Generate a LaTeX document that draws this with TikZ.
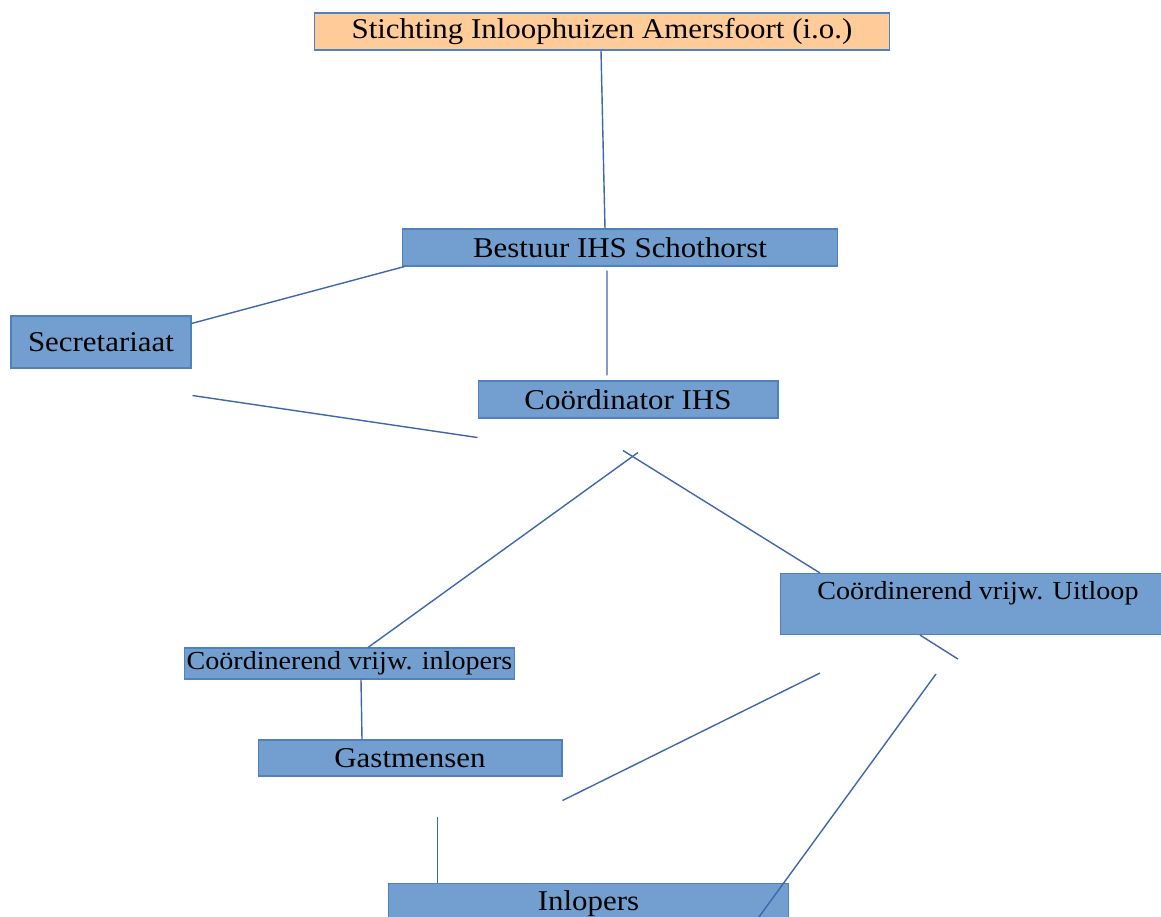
\documentclass[tikz,border=0pt]{standalone}
\usepackage{fontspec}
\setmainfont{Liberation Serif}[FakeStretch=1.08]
\definecolor{boxblue}{RGB}{114,159,207}
\definecolor{edgeblue}{RGB}{79,129,189}
\definecolor{lineblue}{RGB}{62,103,172}
\definecolor{peach}{RGB}{255,204,153}
\begin{document}
\begin{tikzpicture}[x=0.02cm, y=-0.02cm,
                box/.style={draw=edgeblue, fill=boxblue, rectangle, inner sep=0pt, line width=0.6pt, font=\fontsize{16.3}{19}\selectfont},
                smallbox/.style={box, font=\fontsize{14.8}{17}\selectfont},
                link/.style={draw=lineblue, line width=0.8pt}]
                \clip (0,0) rectangle (1161,917);
                \node[box, fill=peach, minimum width=11.52cm, minimum height=0.74cm] (stichting) at (602,31.5) {Stichting Inloophuizen Amersfoort (i.o.)};
                \node[box, minimum width=8.72cm, minimum height=0.74cm] (bestuur) at (620,247.5) {Bestuur IHS Schothorst};
                \node[box, minimum width=3.6cm, minimum height=1.04cm] (secr) at (101,342) {Secretariaat};
                \node[box, minimum width=6cm, minimum height=0.74cm] (coord) at (628,399.5) {Coördinator IHS};
                \node[smallbox, anchor=north west, minimum width=7.9cm, text height=0.52cm, text depth=0.7cm] (uitloop) at (780,573) {Coördinerend vrijw. Uitloop};
                \node[smallbox, minimum width=6.62cm, minimum height=0.62cm] (inlopersco) at (349.5,663.5) {Coördinerend vrijw. inlopers};
                \node[box, minimum width=6.08cm, minimum height=0.72cm] (gast) at (410,758) {Gastmensen};
                \node[box, anchor=north, minimum width=8.02cm, text height=0.54cm, text depth=0.4cm] (inl) at (588.5,883) {Inlopers};

                \coordinate (secfree) at ([xshift=0.02cm,yshift=-0.54cm]secr.south east);
                \coordinate (coordfree) at ([yshift=-0.38cm]coord.south west);
                \coordinate (uitfree) at ([xshift=3.56cm,yshift=-0.48cm]uitloop.south west);
                \coordinate (uitfreeb) at ([xshift=0.8cm,yshift=-0.76cm]uitloop.south west);
                \coordinate (uitfreec) at ([xshift=3.12cm,yshift=-0.78cm]uitloop.south west);
                \coordinate (gastfree) at ([yshift=-0.48cm]gast.south east);
                \coordinate (inlfree) at ([xshift=1cm,yshift=1.32cm]inl.north west);

                \draw[link] ([xshift=-0.02cm]stichting.south) -- ([xshift=-0.3cm]bestuur.north);
                \draw[link] ([xshift=0.06cm]bestuur.south west) -- ([yshift=-0.16cm]secr.north east);
                \draw[link] ([xshift=-0.26cm,yshift=-0.08cm]bestuur.south) -- ([xshift=-0.42cm,yshift=0.1cm]coord.north);
                \draw[link] (secfree) -- (coordfree);
                \draw[link] ([xshift=-0.1cm,yshift=-0.64cm]coord.south) -- ([xshift=0.8cm]uitloop.north west);
                \draw[link] ([xshift=0.2cm,yshift=-0.68cm]coord.south) -- ([xshift=0.37cm]inlopersco.north);
                \draw[link] ([xshift=2.8cm]uitloop.south west) -- (uitfree);
                \draw[link] ([xshift=0.23cm]inlopersco.south) -- ([xshift=-0.96cm]gast.north);
                \draw[link] (uitfreeb) -- (gastfree);
                \draw[link] (inlfree) -- ([xshift=1cm]inl.north west);
                \draw[link] (uitfreec) -- ++(-188,258);
            \end{tikzpicture}
\end{document}
